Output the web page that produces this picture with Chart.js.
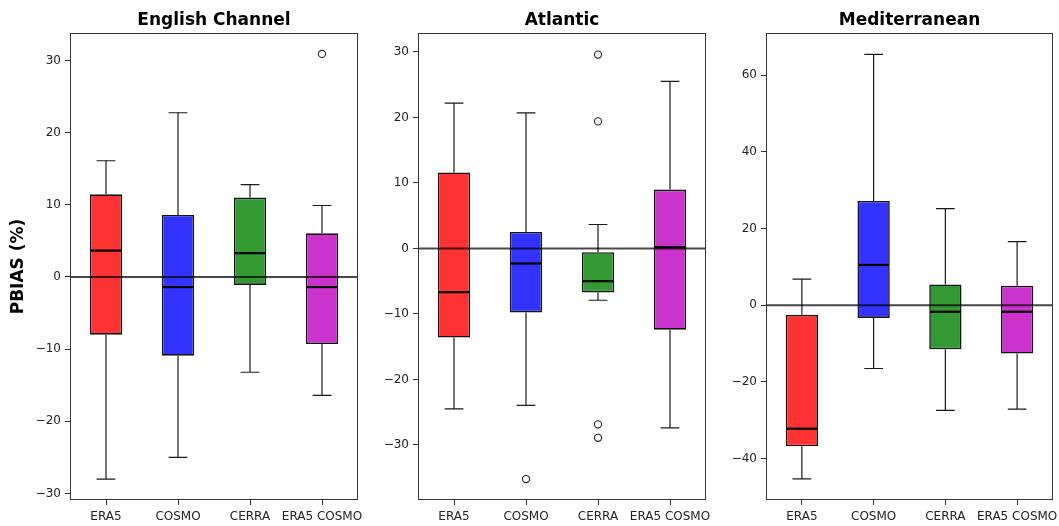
<!DOCTYPE html>
<html>
<head>
<meta charset="utf-8">
<script src="https://cdn.jsdelivr.net/npm/chart.js@4.4.0/dist/chart.umd.min.js"></script>
<style>
    body { margin: 0; background: #fff; width: 1059px; height: 526px; position: relative; overflow: hidden; }
    .panel { position: absolute; top: 0; height: 526px; }
</style>
</head>
<body>
<div class="panel" style="left:0px;width:375px"><canvas id="chartEC"></canvas></div>
<div class="panel" style="left:372px;width:343px"><canvas id="chartAT"></canvas></div>
<div class="panel" style="left:715px;width:344px"><canvas id="chartME"></canvas></div>
<script>
// Categories shared by all three panels
const categories = ['ERA5', 'COSMO', 'CERRA', 'ERA5 COSMO'];

// English Channel
const ecLow = [-28.0, -25.0, -13.2, -16.4];
const ecQ1 = [-8.0, -10.9, -1.1, -9.3];
const ecMedian = [3.65, -1.4, 3.3, -1.4];
const ecQ3 = [11.45, 8.6, 11.0, 6.05];
const ecHigh = [16.1, 22.75, 12.8, 9.9];
const ecOutliers = [{ x: 'ERA5 COSMO', y: 30.9 }];
const ecTicks = [-30, -20, -10, 0, 10, 20, 30];
const ecRange = [-30.9, 33.8];

// Atlantic
const atLow = [-24.5, -23.95, -7.9, -27.4];
const atQ1 = [-13.6, -9.76, -6.71, -12.4];
const atMedian = [-6.67, -2.29, -4.99, 0.2];
const atQ3 = [11.6, 2.53, -0.56, 9.0];
const atHigh = [22.2, 20.7, 3.66, 25.5];
const atOutliers = [
    { x: 'COSMO', y: -35.2 },
    { x: 'CERRA', y: 29.6 },
    { x: 'CERRA', y: 19.4 },
    { x: 'CERRA', y: -26.85 },
    { x: 'CERRA', y: -28.9 }
];
const atTicks = [-30, -20, -10, 0, 10, 20, 30];
const atRange = [-38.4, 32.9];

// Mediterranean
const meLow = [-45.3, -16.5, -27.4, -27.1];
const meQ1 = [-36.8, -3.3, -11.5, -12.6];
const meMedian = [-32.2, 10.5, -1.7, -1.7];
const meQ3 = [-2.5, 27.2, 5.4, 5.1];
const meHigh = [6.8, 65.4, 25.2, 16.6];
const meOutliers = [];
const meTicks = [-40, -20, 0, 20, 40, 60];
const meRange = [-50.8, 71.0];

const boxColors = ['#ff3333', '#3333ff', '#339933', '#cc33cc'];
const FONT = 'DejaVu Sans';

// Whiskers, caps, medians, zero line and frame, drawn from the scales
const boxExtras = {
    id: 'boxExtras',
    afterDatasetsDraw(chart, args, opts) {
        const ctx = chart.ctx;
        const y = chart.scales.y;
        const area = chart.chartArea;
        const meta = chart.getDatasetMeta(0);
        ctx.save();
        meta.data.forEach((bar, i) => {
            const cx = bar.x;
            const w = bar.width;
            const cap = w * 0.29;
            const pQ1 = y.getPixelForValue(opts.q1[i]);
            const pQ3 = y.getPixelForValue(opts.q3[i]);
            const pLo = y.getPixelForValue(opts.low[i]);
            const pHi = y.getPixelForValue(opts.high[i]);
            const pMed = y.getPixelForValue(opts.median[i]);

            ctx.strokeStyle = '#1a1a1a';
            ctx.lineWidth = 1.2;
            ctx.beginPath();
            ctx.moveTo(cx, pQ3); ctx.lineTo(cx, pHi);
            ctx.moveTo(cx, pQ1); ctx.lineTo(cx, pLo);
            ctx.moveTo(cx - cap, pHi); ctx.lineTo(cx + cap, pHi);
            ctx.moveTo(cx - cap, pLo); ctx.lineTo(cx + cap, pLo);
            ctx.stroke();

            ctx.strokeStyle = '#000';
            ctx.lineWidth = 2.2;
            ctx.beginPath();
            ctx.moveTo(cx - w / 2 + 1, pMed); ctx.lineTo(cx + w / 2 - 1, pMed);
            ctx.stroke();
        });

        // reference line at zero
        const p0 = y.getPixelForValue(0);
        ctx.strokeStyle = 'rgba(0,0,0,0.72)';
        ctx.lineWidth = 2;
        ctx.beginPath();
        ctx.moveTo(area.left, p0); ctx.lineTo(area.right, p0);
        ctx.stroke();

        // axes frame
        ctx.strokeStyle = '#333';
        ctx.lineWidth = 1;
        ctx.strokeRect(area.left + 0.5, area.top + 0.5, area.right - area.left - 1, area.bottom - area.top - 1);
        ctx.restore();
    }
};

function formatTick(v) {
    return v < 0 ? '\u2212' + Math.abs(v) : String(v);
}

function createPanel(canvasId, title, stats, outliers, ticks, range, axisWidth, rightPad, showYTitle) {
    const ctx = document.getElementById(canvasId).getContext('2d');
    return new Chart(ctx, {
        type: 'bar',
        data: {
            labels: categories,
            datasets: [
                {
                    data: stats.q1.map((v, i) => [v, stats.q3[i]]),
                    backgroundColor: boxColors,
                    borderColor: '#151515',
                    borderWidth: 1.6,
                    borderSkipped: false,
                    barPercentage: 0.45,
                    categoryPercentage: 1.0
                },
                {
                    type: 'line',
                    data: outliers,
                    showLine: false,
                    pointRadius: 3.6,
                    pointBackgroundColor: 'rgba(255,255,255,0)',
                    pointBorderColor: '#222',
                    pointBorderWidth: 1.1
                }
            ]
        },
        options: {
            responsive: true,
            maintainAspectRatio: false,
            animation: false,
            layout: {
                padding: { left: 0, right: rightPad, top: 0, bottom: 0 }
            },
            plugins: {
                legend: { display: false },
                tooltip: { enabled: false },
                title: {
                    display: true,
                    text: title,
                    fullSize: false,
                    color: '#000',
                    font: { family: FONT, size: 17, weight: 'bold' },
                    padding: { top: 10, bottom: 2.6 }
                },
                boxExtras: stats
            },
            scales: {
                x: {
                    offset: true,
                    border: { display: false },
                    grid: {
                        offset: false,
                        drawOnChartArea: false,
                        tickLength: 5,
                        color: '#333'
                    },
                    ticks: {
                        color: '#222',
                        font: { family: FONT, size: 12 },
                        padding: 5,
                        maxRotation: 0,
                        autoSkip: false
                    },
                    afterFit: function(scale) {
                        scale.height = 26;
                        scale.paddingLeft = 0;
                        scale.paddingRight = 0;
                    }
                },
                y: {
                    min: range[0],
                    max: range[1],
                    border: { display: false },
                    grid: {
                        drawOnChartArea: false,
                        tickLength: 5,
                        color: '#333'
                    },
                    ticks: {
                        color: '#222',
                        font: { family: FONT, size: 12 },
                        padding: 4,
                        callback: formatTick
                    },
                    afterBuildTicks: function(scale) {
                        scale.ticks = ticks.map(v => ({ value: v }));
                    },
                    afterFit: function(scale) {
                        scale.width = axisWidth;
                        scale.paddingTop = 0;
                        scale.paddingBottom = 0;
                    },
                    title: {
                        display: showYTitle,
                        text: 'PBIAS (%)',
                        color: '#000',
                        font: { family: FONT, size: 17, weight: 'bold' },
                        padding: { top: 8.5, bottom: 0 }
                    }
                }
            }
        },
        plugins: [boxExtras]
    });
}

createPanel('chartEC', 'English Channel',
    { low: ecLow, q1: ecQ1, median: ecMedian, q3: ecQ3, high: ecHigh },
    ecOutliers, ecTicks, ecRange, 70, 17, true);

createPanel('chartAT', 'Atlantic',
    { low: atLow, q1: atQ1, median: atMedian, q3: atQ3, high: atHigh },
    atOutliers, atTicks, atRange, 46, 9, false);

createPanel('chartME', 'Mediterranean',
    { low: meLow, q1: meQ1, median: meMedian, q3: meQ3, high: meHigh },
    meOutliers, meTicks, meRange, 51, 6, false);
</script>
</body>
</html>
